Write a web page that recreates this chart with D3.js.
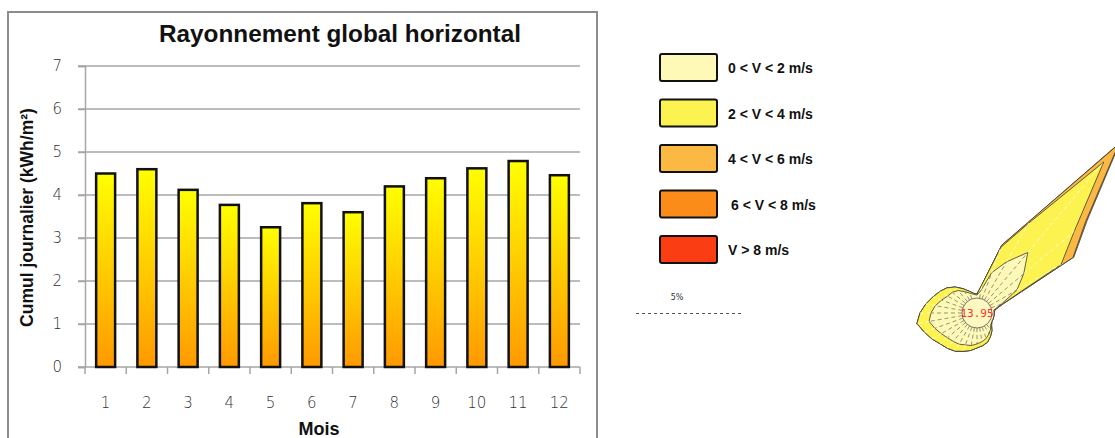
<!DOCTYPE html>
<html>
<head>
<meta charset="utf-8">
<script src="https://cdn.jsdelivr.net/npm/d3@7"></script>
<style>
  body { margin: 0; background: #fff; }
  svg { display: block; }
</style>
</head>
<body>
<div id="container"></div>
<script>
// rayonnement mensuel (kWh/m2/jour)
const months = [1, 2, 3, 4, 5, 6, 7, 8, 9, 10, 11, 12];
const radiation = [4.50, 4.60, 4.12, 3.77, 3.25, 3.81, 3.60, 4.20, 4.39, 4.62, 4.79, 4.46];
const yTicks = [0, 1, 2, 3, 4, 5, 6, 7];

// rose des vents : 36 directions, frequences (%) par classe de vitesse
const windDirs = d3.range(0, 360, 10);
const v0_2 = [0.14, 0.38, 1.33, 2.10, 3.05, 2.19, 1.48, 0.52, 0.10, 0.10, 0.10, 0.10,
              0.10, 0.14, 0.29, 0.43, 0.57, 0.67, 0.76, 0.86, 0.90, 1.00, 1.05, 1.12,
              1.25, 1.42, 1.60, 1.48, 1.30, 1.08, 0.90, 0.82, 0.68, 0.46, 0.29, 0.19];
const v2_4 = [0.05, 0.29, 1.29, 2.14, 5.62, 3.14, 2.43, 0.10, 0.05, 0.00, 0.00, 0.00,
              0.00, 0.05, 0.10, 0.14, 0.19, 0.19, 0.19, 0.24, 0.33, 0.38, 0.43, 0.45,
              0.51, 0.53, 0.59, 0.52, 0.46, 0.44, 0.43, 0.33, 0.22, 0.16, 0.10, 0.05];
const v4_6 = [0, 0, 0.10, 0.15, 1.10, 0.70, 0.65, 0.05, 0, 0, 0, 0,
              0, 0, 0, 0, 0, 0, 0, 0, 0, 0, 0, 0,
              0, 0, 0, 0, 0, 0, 0, 0, 0, 0, 0, 0];
const v6_8 = [0, 0, 0, 0, 0.10, 0.10, 0.05, 0, 0, 0, 0, 0,
              0, 0, 0, 0, 0, 0, 0, 0, 0, 0, 0, 0,
              0, 0, 0, 0, 0, 0, 0, 0, 0, 0, 0, 0];
const v8p = windDirs.map(() => 0);
const calm = 13.95;

const classLabels = ["0 < V < 2 m/s", "2 < V < 4 m/s", "4 < V < 6 m/s", "6 < V < 8 m/s", "V > 8 m/s"];
const classColors = ["#fff9b8", "#fdf350", "#fbb944", "#fb8c1a", "#fb3d14"];

const W = 1115, H = 438;
const svg = d3.select("#container").append("svg")
    .attr("width", W).attr("height", H);

// ---------- histogramme ----------
svg.append("rect")
    .attr("x", 8).attr("y", 12).attr("width", 589).attr("height", 450)
    .attr("fill", "none").attr("stroke", "#8c8c8c").attr("stroke-width", 2);

const plot = {left: 85, right: 580, top: 66, bottom: 367};

const x = d3.scaleBand().domain(months)
    .range([plot.left, plot.right])
    .paddingInner(0.54).paddingOuter(0.27);
const y = d3.scaleLinear().domain([0, 7]).range([plot.bottom, plot.top]);

const defs = svg.append("defs");
const grad = defs.append("linearGradient")
    .attr("id", "barGrad").attr("x1", 0).attr("y1", 0).attr("x2", 0).attr("y2", 1);
grad.append("stop").attr("offset", "0%").attr("stop-color", "#ffff00");
grad.append("stop").attr("offset", "100%").attr("stop-color", "#ff9900");

// grille
svg.append("g").selectAll("line")
    .data(yTicks.filter(d => d > 0))
    .enter().append("line")
    .attr("x1", plot.left - 7).attr("x2", plot.right)
    .attr("y1", d => y(d)).attr("y2", d => y(d))
    .attr("stroke", "#a6a6a6").attr("stroke-width", 1.5);

const yAxis = svg.append("g")
    .attr("transform", `translate(${plot.left},0)`)
    .call(d3.axisLeft(y).tickValues(yTicks).tickFormat(d3.format("d"))
        .tickSize(7).tickPadding(16));
yAxis.select(".domain").attr("stroke", "#a6a6a6").attr("stroke-width", 1.5);
yAxis.selectAll(".tick line").attr("stroke", "#a6a6a6").attr("stroke-width", 1.5);
yAxis.selectAll(".tick text")
    .attr("font-family", "DejaVu Sans").attr("font-size", 15)
    .attr("fill", "#333").attr("font-weight", 200);

// axe des x : graduations entre les barres
const xAxisG = svg.append("g").attr("transform", `translate(0,${plot.bottom})`);
xAxisG.append("line")
    .attr("x1", plot.left - 7).attr("x2", plot.right)
    .attr("stroke", "#a6a6a6").attr("stroke-width", 1.5);
const bounds = months.map(m => x(m) - x.step() * x.paddingInner() / 2).concat([plot.right]);
xAxisG.selectAll("line.tk").data(bounds).enter().append("line")
    .attr("class", "tk")
    .attr("x1", d => d).attr("x2", d => d).attr("y1", 0).attr("y2", 7)
    .attr("stroke", "#a6a6a6").attr("stroke-width", 1.5);
xAxisG.selectAll("text").data(months).enter().append("text")
    .attr("x", d => x(d) + x.bandwidth() / 2)
    .attr("y", 41)
    .attr("text-anchor", "middle")
    .attr("font-family", "DejaVu Sans").attr("font-size", 15)
    .attr("font-weight", 200).attr("fill", "#333")
    .text(d => d);

svg.append("g").selectAll("rect")
    .data(radiation)
    .enter().append("rect")
    .attr("x", (d, i) => x(months[i]))
    .attr("y", d => y(d))
    .attr("width", x.bandwidth())
    .attr("height", d => y(0) - y(d))
    .attr("fill", "url(#barGrad)")
    .attr("stroke", "#111").attr("stroke-width", 2.5);

svg.append("text")
    .attr("x", 340).attr("y", 42)
    .attr("text-anchor", "middle")
    .attr("font-family", "Liberation Sans").attr("font-weight", "bold")
    .attr("font-size", 23.5).attr("fill", "#111")
    .attr("textLength", 362).attr("lengthAdjust", "spacingAndGlyphs")
    .text("Rayonnement global horizontal");

svg.append("text")
    .attr("transform", `translate(33,${(plot.top + plot.bottom) / 2 + 1}) rotate(-90)`)
    .attr("text-anchor", "middle")
    .attr("font-family", "Liberation Sans").attr("font-weight", "bold")
    .attr("font-size", 17.5).attr("fill", "#111")
    .text("Cumul journalier (kWh/m²)");

svg.append("text")
    .attr("x", 319).attr("y", 435)
    .attr("text-anchor", "middle")
    .attr("font-family", "Liberation Sans").attr("font-weight", "bold")
    .attr("font-size", 18).attr("fill", "#111")
    .text("Mois");

// ---------- legende ----------
const legend = svg.append("g").selectAll("g")
    .data(classLabels)
    .enter().append("g")
    .attr("transform", (d, i) => `translate(660,${54 + i * 45.5})`);
legend.append("rect")
    .attr("width", 57).attr("height", 27).attr("rx", 2)
    .attr("fill", (d, i) => classColors[i])
    .attr("stroke", "#111").attr("stroke-width", 2);
legend.append("text")
    .attr("x", (d, i) => i === 3 ? 71 : 68).attr("y", 19)
    .attr("font-family", "Liberation Sans").attr("font-weight", "bold")
    .attr("font-size", 14).attr("fill", "#111")
    .text(d => d);

// echelle 5%
const pxPerPct = 21;
svg.append("text")
    .attr("x", 677).attr("y", 300)
    .attr("text-anchor", "middle")
    .attr("font-family", "DejaVu Sans").attr("font-size", 8).attr("fill", "#333")
    .text("5%");
svg.append("line")
    .attr("x1", 636).attr("x2", 636 + 5 * pxPerPct)
    .attr("y1", 313.5).attr("y2", 313.5)
    .attr("stroke", "#555").attr("stroke-width", 1)
    .attr("stroke-dasharray", "3,3");

// ---------- rose des vents ----------
const cx = 977, cy = 313, r0 = 15;
const rose = svg.append("g").attr("transform", `translate(${cx},${cy})`);
const classes = [v0_2, v2_4, v4_6, v6_8, v8p];
const cum = classes.map((c, k) => windDirs.map((dd, i) =>
    d3.sum(classes.slice(0, k + 1), s => s[i])));
const rScale = d3.scaleLinear().domain([0, 10]).range([r0, r0 + 10 * pxPerPct]);
const pt = (deg, p) => {
    const a = deg * Math.PI / 180, r = rScale(p);
    return [r * Math.sin(a), -r * Math.cos(a)];
};
const line = d3.line().curve(d3.curveLinearClosed);

for (let k = classes.length - 1; k >= 0; k--) {
    if (d3.max(classes[k]) === 0) continue;
    rose.append("path")
        .attr("d", line(windDirs.map((dd, i) => pt(dd, cum[k][i]))))
        .attr("fill", classColors[k])
        .attr("stroke", "#3a3a3a").attr("stroke-width", 0.8)
        .attr("stroke-linejoin", "round");
}

// rayons pointilles
windDirs.forEach((dd, i) => {
    for (let k = 0; k < 2; k++) {
        const p0 = k === 0 ? pt(dd, 0) : pt(dd, cum[0][i]);
        const p1 = pt(dd, cum[k][i]);
        if (Math.hypot(p1[0] - p0[0], p1[1] - p0[1]) < 6) continue;
        rose.append("line")
            .attr("x1", p0[0]).attr("y1", p0[1]).attr("x2", p1[0]).attr("y2", p1[1])
            .attr("stroke", k === 0 ? "#666" : "#fff")
            .attr("stroke-width", 0.7).attr("stroke-dasharray", "4,3");
    }
});

rose.append("circle")
    .attr("r", r0)
    .attr("fill", "#fff9c0").attr("stroke", "#555").attr("stroke-width", 0.8);
rose.append("text")
    .attr("y", 4).attr("text-anchor", "middle")
    .attr("font-family", "DejaVu Sans Mono").attr("font-size", 11)
    .attr("fill", "#ff3030")
    .text(calm.toFixed(2));
</script>
</body>
</html>
